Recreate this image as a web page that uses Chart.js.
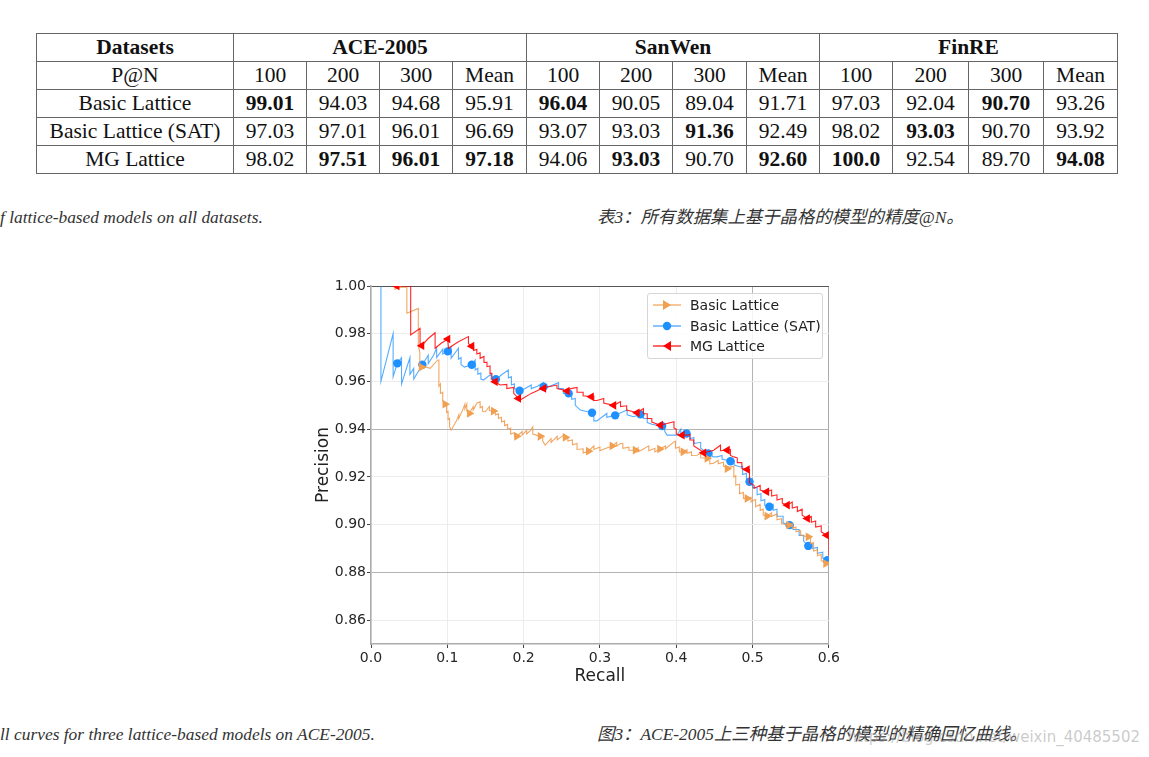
<!DOCTYPE html>
<html>
<head>
<meta charset="utf-8">
<script src="https://cdn.jsdelivr.net/npm/chart.js@4.4.1/dist/chart.umd.min.js"></script>
<style>
  html,body{margin:0;padding:0;background:#fff;}
  body{width:1149px;height:757px;position:relative;overflow:hidden;}
  #tbl{position:absolute;left:36px;top:33px;border-collapse:collapse;font-family:'Liberation Serif','Times New Roman',serif;font-size:21.5px;color:#111;table-layout:fixed;}
  #tbl td{border:1px solid #666;height:27px;padding:0;text-align:center;line-height:27px;white-space:nowrap;}
  #tbl td.b{font-weight:bold;}
  .cap{position:absolute;font-family:'Liberation Serif','Noto Sans CJK SC',serif;font-style:italic;font-size:17.4px;color:#333;white-space:nowrap;line-height:18px;}
  #chartBox{position:absolute;left:300px;top:276px;width:542px;height:420px;}
  #legend{position:absolute;left:647px;top:293px;width:174px;height:64px;border:1px solid #d6d6d6;border-radius:3px;background:rgba(255,255,255,0.85);font-family:'DejaVu Sans',sans-serif;font-size:14px;color:#222;}
  .lrow{position:absolute;left:0;height:20px;width:174px;}
  .lrow svg{position:absolute;left:4px;top:0;}
  .lrow span{position:absolute;left:42px;top:1px;line-height:18px;white-space:nowrap;}
  #wm{position:absolute;right:9px;top:728px;font-family:'DejaVu Sans',sans-serif;font-size:15px;color:rgba(150,150,150,0.5);white-space:nowrap;}
</style>
</head>
<body>
<table id="tbl"></table>
<div class="cap" style="left:0px;top:208px;">f lattice-based models on all datasets.</div>
<div class="cap" style="left:597px;top:208px;">表3：所有数据集上基于晶格的模型的精度@N。</div>
<div id="chartBox"><canvas id="c"></canvas></div>
<div id="legend"></div>
<div class="cap" style="left:0px;top:725px;">ll curves for three lattice-based models on ACE-2005.</div>
<div class="cap" style="left:597px;top:725px;">图3：ACE-2005上三种基于晶格的模型的精确回忆曲线。</div>
<div id="wm">https://blog.csdn.net/weixin_40485502</div>
<script>
// ---------- table data ----------
const tableDatasets = ['ACE-2005', 'SanWen', 'FinRE'];
const tableColumns = ['100', '200', '300', 'Mean'];
const tableModels = ['Basic Lattice', 'Basic Lattice (SAT)', 'MG Lattice'];
const basicRow = ['99.01','94.03','94.68','95.91','96.04','90.05','89.04','91.71','97.03','92.04','90.70','93.26'];
const satRow   = ['97.03','97.01','96.01','96.69','93.07','93.03','91.36','92.49','98.02','93.03','90.70','93.92'];
const mgRow    = ['98.02','97.51','96.01','97.18','94.06','93.03','90.70','92.60','100.0','92.54','89.70','94.08'];
const basicBold = [0, 4, 10];
const satBold   = [6, 9];
const mgBold    = [1, 2, 3, 5, 7, 8, 11];

// ---------- chart data ----------
const xTicks = [0.0, 0.1, 0.2, 0.3, 0.4, 0.5, 0.6];
const yTicks = [0.86, 0.88, 0.90, 0.92, 0.94, 0.96, 0.98, 1.00];
const seriesNames = ['Basic Lattice', 'Basic Lattice (SAT)', 'MG Lattice'];

const basicCurve = [[0.030,0.9995],[0.047,0.9995],[0.047,0.9886],[0.062,0.9906],[0.062,0.975],[0.064,0.972],[0.064,0.967],[0.0774,0.9655],[0.0875,0.969],[0.089,0.969],[0.089,0.958],[0.091,0.959],[0.091,0.955],[0.094,0.9555],[0.094,0.952],[0.097,0.9505],[0.099,0.951],[0.099,0.947],[0.101,0.9475],[0.101,0.944],[0.103,0.9445],[0.103,0.941],[0.105,0.9396],[0.112,0.9435],[0.115,0.946],[0.115,0.9445],[0.120,0.948],[0.123,0.9505],[0.123,0.9485],[0.1255,0.9505],[0.1255,0.9476],[0.129,0.9466],[0.134,0.9495],[0.134,0.948],[0.139,0.951],[0.143,0.9515],[0.143,0.949],[0.146,0.9495],[0.146,0.9475],[0.150,0.9474],[0.155,0.9495],[0.155,0.9478],[0.1605,0.9476],[0.163,0.948],[0.163,0.946],[0.167,0.9465],[0.167,0.9445],[0.171,0.945],[0.171,0.943],[0.175,0.9435],[0.175,0.9415],[0.179,0.942],[0.179,0.940],[0.183,0.9405],[0.183,0.938],[0.188,0.9385],[0.188,0.9368],[0.191,0.937],[0.198,0.939],[0.198,0.9375],[0.204,0.9395],[0.204,0.938],[0.209,0.9395],[0.212,0.941],[0.212,0.938],[0.2218,0.937],[0.225,0.9372],[0.225,0.935],[0.2283,0.9333],[0.236,0.936],[0.236,0.9345],[0.244,0.937],[0.244,0.9355],[0.2524,0.9375],[0.2546,0.9366],[0.258,0.9368],[0.258,0.935],[0.264,0.9355],[0.264,0.9335],[0.270,0.934],[0.270,0.9315],[0.278,0.9318],[0.278,0.930],[0.285,0.9308],[0.292,0.933],[0.292,0.9315],[0.300,0.9325],[0.300,0.931],[0.308,0.932],[0.316,0.933],[0.322,0.9345],[0.322,0.933],[0.327,0.934],[0.330,0.934],[0.330,0.932],[0.338,0.9325],[0.338,0.9312],[0.3464,0.9312],[0.350,0.9322],[0.350,0.9305],[0.356,0.9315],[0.362,0.9327],[0.364,0.933],[0.364,0.931],[0.372,0.932],[0.372,0.9305],[0.3784,0.9317],[0.386,0.933],[0.386,0.9318],[0.397,0.9347],[0.399,0.935],[0.399,0.932],[0.404,0.9325],[0.404,0.9305],[0.409,0.9305],[0.414,0.9315],[0.414,0.9298],[0.420,0.9305],[0.420,0.929],[0.4274,0.9291],[0.432,0.930],[0.432,0.928],[0.4405,0.9278],[0.444,0.9275],[0.444,0.9255],[0.449,0.9257],[0.455,0.927],[0.455,0.9255],[0.462,0.9262],[0.462,0.9245],[0.469,0.924],[0.4755,0.9245],[0.4755,0.920],[0.478,0.9205],[0.478,0.9166],[0.483,0.917],[0.483,0.913],[0.488,0.9135],[0.488,0.911],[0.493,0.911],[0.498,0.9115],[0.498,0.9095],[0.502,0.9103],[0.504,0.9105],[0.504,0.9075],[0.510,0.9085],[0.510,0.906],[0.514,0.9065],[0.514,0.904],[0.519,0.9036],[0.525,0.905],[0.525,0.9035],[0.532,0.9045],[0.532,0.902],[0.538,0.9025],[0.538,0.9005],[0.5476,0.8998],[0.552,0.9005],[0.552,0.8985],[0.557,0.899],[0.557,0.897],[0.563,0.8975],[0.563,0.8955],[0.573,0.8949],[0.576,0.895],[0.576,0.892],[0.580,0.8925],[0.580,0.889],[0.585,0.8895],[0.585,0.887],[0.590,0.8875],[0.590,0.885],[0.596,0.8837],[0.600,0.8845],[0.600,0.883]];
const basicMarks = [[0.034,1.0],[0.066,0.966],[0.097,0.9505],[0.129,0.9466],[0.1605,0.9476],[0.191,0.937],[0.2218,0.937],[0.2546,0.9366],[0.285,0.9308],[0.316,0.933],[0.3464,0.9312],[0.3784,0.9317],[0.409,0.9305],[0.4405,0.9278],[0.4668,0.9235],[0.493,0.911],[0.519,0.9036],[0.5476,0.8998],[0.573,0.8949],[0.596,0.8837]];

const satCurve = [[0.013,1.000],[0.013,0.960],[0.029,0.980],[0.029,0.962],[0.0345,0.9676],[0.040,0.970],[0.040,0.959],[0.051,0.970],[0.051,0.963],[0.056,0.9655],[0.056,0.961],[0.0673,0.967],[0.075,0.971],[0.075,0.9675],[0.082,0.971],[0.086,0.974],[0.086,0.970],[0.094,0.9735],[0.094,0.9715],[0.1006,0.9726],[0.105,0.9746],[0.105,0.9697],[0.1146,0.9739],[0.1146,0.9693],[0.118,0.970],[0.118,0.967],[0.1225,0.966],[0.132,0.967],[0.1365,0.969],[0.1365,0.9648],[0.140,0.9655],[0.140,0.963],[0.144,0.9635],[0.144,0.961],[0.1474,0.9606],[0.1575,0.9631],[0.1575,0.961],[0.1636,0.9609],[0.172,0.963],[0.180,0.9648],[0.180,0.9615],[0.184,0.962],[0.184,0.9585],[0.188,0.959],[0.188,0.957],[0.1947,0.9561],[0.202,0.9571],[0.210,0.9585],[0.210,0.957],[0.218,0.958],[0.226,0.9595],[0.226,0.9575],[0.2327,0.9578],[0.2458,0.9595],[0.2458,0.957],[0.252,0.957],[0.252,0.955],[0.259,0.955],[0.263,0.955],[0.263,0.9525],[0.2677,0.9529],[0.2677,0.950],[0.2743,0.948],[0.2896,0.9469],[0.292,0.9465],[0.292,0.9435],[0.296,0.9435],[0.309,0.9466],[0.309,0.945],[0.320,0.9458],[0.328,0.947],[0.3356,0.948],[0.3356,0.946],[0.344,0.9452],[0.353,0.9462],[0.357,0.9465],[0.357,0.9445],[0.362,0.9445],[0.362,0.9428],[0.368,0.9421],[0.3815,0.9413],[0.385,0.9418],[0.385,0.939],[0.388,0.9375],[0.401,0.9375],[0.406,0.940],[0.406,0.9385],[0.4134,0.9382],[0.418,0.938],[0.418,0.936],[0.423,0.9365],[0.423,0.934],[0.432,0.9345],[0.432,0.932],[0.4418,0.9298],[0.447,0.9305],[0.447,0.9285],[0.4537,0.9284],[0.460,0.929],[0.460,0.9275],[0.471,0.9266],[0.476,0.9268],[0.476,0.925],[0.484,0.9242],[0.487,0.9245],[0.487,0.921],[0.492,0.9215],[0.492,0.919],[0.496,0.918],[0.500,0.918],[0.500,0.9155],[0.506,0.9155],[0.506,0.9125],[0.511,0.913],[0.511,0.910],[0.516,0.9105],[0.516,0.908],[0.522,0.9075],[0.527,0.9085],[0.527,0.906],[0.532,0.9065],[0.532,0.9035],[0.540,0.9035],[0.540,0.9008],[0.5486,0.8998],[0.553,0.900],[0.553,0.898],[0.561,0.898],[0.561,0.8955],[0.567,0.8955],[0.567,0.893],[0.573,0.8911],[0.578,0.892],[0.578,0.890],[0.585,0.8905],[0.585,0.888],[0.592,0.8885],[0.592,0.886],[0.598,0.8851],[0.600,0.8855],[0.600,0.8844]];
const satMarks = [[0.0345,0.9676],[0.0673,0.967],[0.1006,0.9726],[0.132,0.967],[0.1636,0.9609],[0.1947,0.9561],[0.2262,0.9578],[0.259,0.955],[0.2896,0.9469],[0.320,0.9458],[0.353,0.9462],[0.3815,0.9413],[0.4134,0.9382],[0.4418,0.9298],[0.471,0.9266],[0.496,0.918],[0.522,0.9075],[0.5486,0.8998],[0.573,0.8911],[0.598,0.8851]];

const mgCurve = [[0.030,1.000],[0.052,1.000],[0.052,0.9795],[0.0643,0.9823],[0.0643,0.976],[0.0665,0.975],[0.075,0.978],[0.084,0.9804],[0.084,0.9739],[0.092,0.976],[0.1006,0.9778],[0.1015,0.9739],[0.114,0.9765],[0.1277,0.9788],[0.1277,0.9758],[0.132,0.9748],[0.1345,0.975],[0.1345,0.973],[0.1387,0.9735],[0.1387,0.9715],[0.143,0.972],[0.143,0.9697],[0.148,0.9705],[0.148,0.968],[0.152,0.968],[0.152,0.9662],[0.156,0.9665],[0.156,0.9634],[0.1584,0.9634],[0.1584,0.961],[0.1627,0.9599],[0.169,0.9585],[0.178,0.9588],[0.178,0.957],[0.187,0.9575],[0.187,0.955],[0.1933,0.9529],[0.1955,0.9522],[0.210,0.955],[0.2262,0.9574],[0.2437,0.9585],[0.2437,0.957],[0.257,0.9561],[0.262,0.957],[0.270,0.9575],[0.270,0.9555],[0.278,0.9555],[0.278,0.954],[0.2887,0.9536],[0.292,0.9538],[0.292,0.952],[0.296,0.952],[0.305,0.9529],[0.305,0.951],[0.318,0.950],[0.327,0.9515],[0.327,0.9495],[0.335,0.9498],[0.335,0.948],[0.3487,0.9469],[0.357,0.9487],[0.357,0.9465],[0.362,0.9465],[0.362,0.9445],[0.368,0.9445],[0.368,0.943],[0.3793,0.9417],[0.388,0.9424],[0.397,0.9431],[0.397,0.9405],[0.400,0.940],[0.400,0.938],[0.4077,0.9375],[0.4143,0.9375],[0.418,0.9378],[0.418,0.9355],[0.423,0.9355],[0.423,0.933],[0.4318,0.9312],[0.436,0.9301],[0.449,0.9312],[0.458,0.9333],[0.458,0.931],[0.4668,0.9312],[0.471,0.9315],[0.471,0.929],[0.4755,0.9284],[0.480,0.928],[0.480,0.926],[0.486,0.926],[0.486,0.9235],[0.493,0.9231],[0.496,0.923],[0.496,0.9175],[0.502,0.9165],[0.502,0.9152],[0.510,0.9165],[0.510,0.9145],[0.5184,0.9138],[0.525,0.9145],[0.525,0.912],[0.532,0.9125],[0.532,0.9103],[0.539,0.911],[0.539,0.909],[0.5455,0.9082],[0.552,0.9095],[0.552,0.907],[0.5587,0.9075],[0.5587,0.9055],[0.565,0.9065],[0.565,0.904],[0.5718,0.9026],[0.577,0.9035],[0.577,0.901],[0.5827,0.9015],[0.5827,0.899],[0.590,0.8995],[0.590,0.897],[0.5971,0.8956],[0.600,0.8949],[0.600,0.887]];
const mgMarks = [[0.034,1.0],[0.0665,0.975],[0.1006,0.9778],[0.132,0.9748],[0.1627,0.9599],[0.1933,0.9529],[0.2262,0.9571],[0.257,0.956],[0.2887,0.9536],[0.318,0.950],[0.3487,0.9469],[0.3793,0.9417],[0.4077,0.9375],[0.436,0.9301],[0.4668,0.9312],[0.493,0.9231],[0.5184,0.9138],[0.5455,0.9082],[0.5718,0.9026],[0.5971,0.8956]];

// ---------- build table ----------
(function(){
  const colW = [197,73,73,73,74,73,73,74,73,73,76,75,74];
  const tbl = document.getElementById('tbl');
  const cg = document.createElement('colgroup');
  colW.forEach(w=>{const c=document.createElement('col');c.style.width=w+'px';cg.appendChild(c);});
  tbl.appendChild(cg);
  let h = '<tr><td class="b">Datasets</td>' + tableDatasets.map(d=>'<td class="b" colspan="4">'+d+'</td>').join('') + '</tr>';
  h += '<tr><td>P@N</td>' + tableDatasets.map(()=>tableColumns.map(c=>'<td>'+c+'</td>').join('')).join('') + '</tr>';
  const rows = [basicRow, satRow, mgRow], bolds = [basicBold, satBold, mgBold];
  rows.forEach((r,i)=>{
    h += '<tr><td>'+tableModels[i]+'</td>' + r.map((v,j)=>'<td'+(bolds[i].includes(j)?' class="b"':'')+'>'+v+'</td>').join('') + '</tr>';
  });
  tbl.innerHTML += h;
})();

// ---------- legend ----------
(function(){
  const lg = document.getElementById('legend');
  const rowsTop = [1, 22, 42];
  const mk = [
    '<polygon points="11,5 11,15 19,10" fill="#f0a050"/>',
    '<circle cx="15" cy="10" r="4.2" fill="#1e90ff"/>',
    '<polygon points="19,5 19,15 11,10" fill="#ff0000"/>'
  ];
  const lc = ['rgba(240,150,70,0.85)','rgba(30,144,255,0.8)','rgba(255,0,0,0.9)'];
  seriesNames.forEach((n,i)=>{
    const d = document.createElement('div');
    d.className='lrow'; d.style.top = rowsTop[i]+'px';
    d.innerHTML = '<svg width="34" height="20"><line x1="1" y1="10" x2="29" y2="10" stroke="'+lc[i]+'" stroke-width="1.3"/>'+mk[i]+'</svg><span>'+n+'</span>';
    lg.appendChild(d);
  });
})();

// ---------- chart ----------
const toXY = a => a.map(p => ({x:p[0], y:p[1]}));
const near = (a,b) => Math.abs(a-b) < 1e-6;

new Chart(document.getElementById('c'), {
  type: 'scatter',
  data: {
    datasets: [
      {label: seriesNames[2], data: toXY(mgMarks), showLine:false, pointStyle:'triangle', rotation:-90, pointRadius:5, backgroundColor:'#ff0000', borderColor:'#ff0000', borderWidth:0, order:0, clip:0},
      {label: seriesNames[2], data: toXY(mgCurve), showLine:true, borderColor:'rgba(255,0,0,0.85)', borderWidth:1.1, pointRadius:0, tension:0, order:1},
      {label: seriesNames[0], data: toXY(basicMarks), showLine:false, pointStyle:'triangle', rotation:90, pointRadius:5, backgroundColor:'#f0a050', borderColor:'#f0a050', borderWidth:0, order:2, clip:0},
      {label: seriesNames[0], data: toXY(basicCurve), showLine:true, borderColor:'rgba(240,150,70,0.85)', borderWidth:1.1, pointRadius:0, tension:0, order:3},
      {label: seriesNames[1], data: toXY(satMarks), showLine:false, pointStyle:'circle', pointRadius:4.2, backgroundColor:'#1e90ff', borderColor:'#1e90ff', borderWidth:0, order:4, clip:0},
      {label: seriesNames[1], data: toXY(satCurve), showLine:true, borderColor:'rgba(30,144,255,0.75)', borderWidth:1.1, pointRadius:0, tension:0, order:5}
    ]
  },
  options: {
    responsive: true,
    maintainAspectRatio: false,
    animation: false,
    layout: {padding: {top:10, right:12, left:0, bottom:0}},
    plugins: {legend:{display:false}, tooltip:{enabled:false}},
    scales: {
      x: {
        type:'linear', min:0, max:0.6,
        afterBuildTicks: s => { s.ticks = xTicks.map(v=>({value:v})); },
        afterFit: s => { s.height = 52; },
        ticks: {padding:2, color:'#262626', font:{family:'DejaVu Sans', size:14}, callback: v => Number(v).toFixed(1)},
        grid: {
          color: ctx => { const v = ctx.tick ? ctx.tick.value : null; if (v===null) return '#ececec'; if (near(v,0.6)) return '#aaaaaa'; if (near(v,0.5)) return '#b4b4b4'; return '#ececec'; },
          tickColor:'#444', tickLength:4, lineWidth:1
        },
        border: {color:'#aaaaaa', width:1.5},
        title: {display:true, text:'Recall', color:'#222', font:{family:'DejaVu Sans', size:17}, padding:{top:0,bottom:9}}
      },
      y: {
        type:'linear', min:0.85, max:1.0,
        afterBuildTicks: s => { s.ticks = yTicks.map(v=>({value:v})); },
        afterFit: s => { s.width = 71; },
        ticks: {padding:1, color:'#262626', font:{family:'DejaVu Sans', size:14}, callback: v => Number(v).toFixed(2)},
        grid: {
          color: ctx => { const v = ctx.tick ? ctx.tick.value : null; if (v===null) return '#ececec'; if (near(v,1.0)) return '#555555'; if (near(v,0.94) || near(v,0.88)) return '#b4b4b4'; return '#ececec'; },
          tickColor:'#444', tickLength:4, lineWidth:1
        },
        border: {color:'#aaaaaa', width:1.5},
        title: {display:true, text:'Precision', color:'#222', font:{family:'DejaVu Sans', size:17}, padding:{top:13,bottom:0}}
      }
    }
  }
});
</script>
</body>
</html>
